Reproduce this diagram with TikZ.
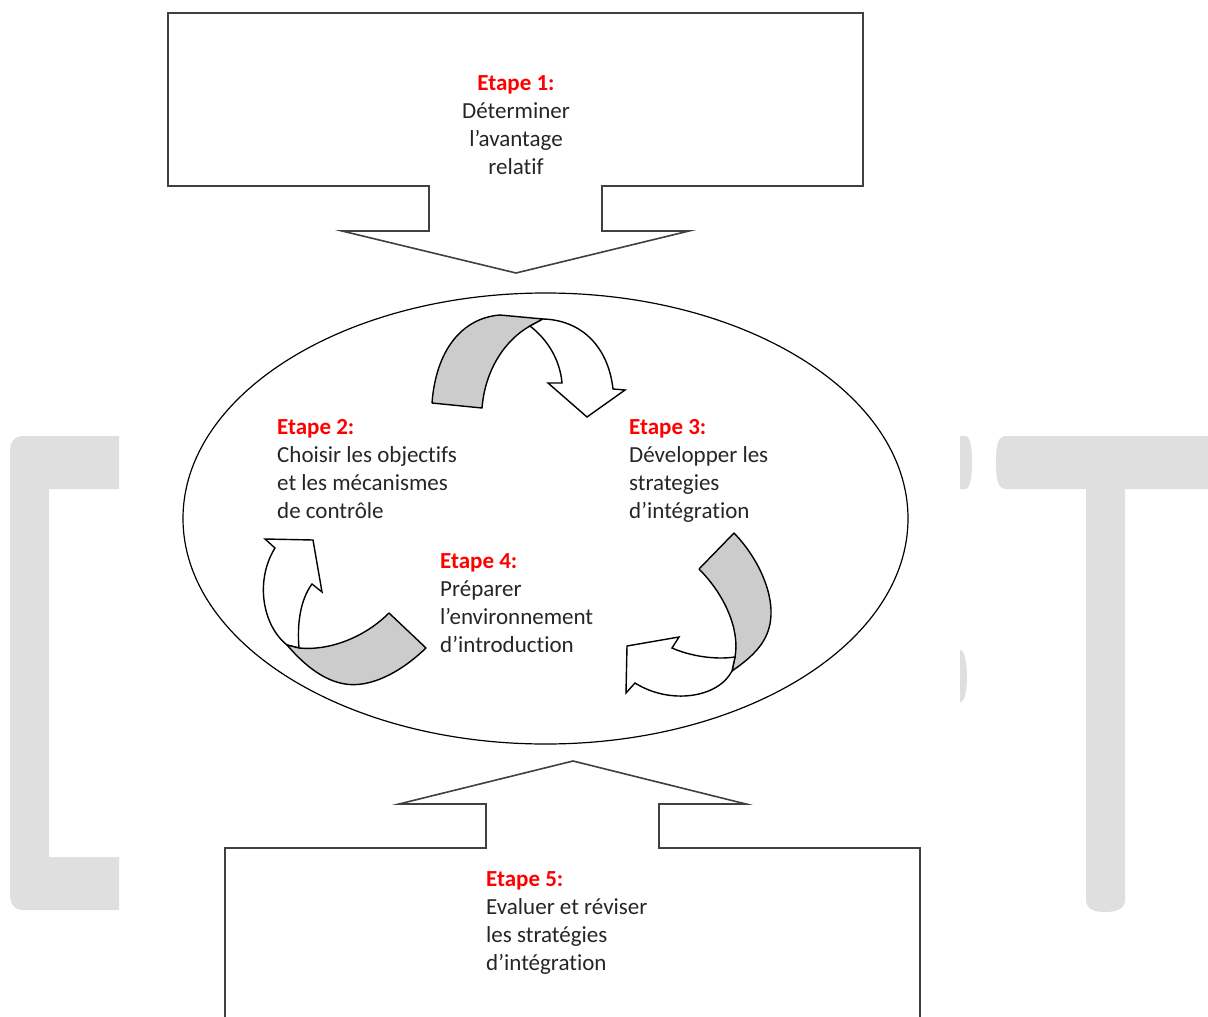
\documentclass[tikz,border=0pt]{standalone}
\usepackage{fontspec}
\setmainfont{Carlito}[Ligatures={NoCommon}]
\usetikzlibrary{shapes.geometric}
\newcommand{\hdtxt}[1]{\textcolor{red}{\textbf{#1}}}
\begin{document}
\begin{tikzpicture}[x=1pt,y=-1pt,
  boxline/.style={draw=black!75,line width=1.6pt,fill=white,line join=miter},
  ribbon/.style={draw=black,line width=1.4pt,fill=gray!40,line join=round},
  frontarrow/.style={draw=black,line width=1.4pt,fill=white,line join=miter},
  wm/.style={fill=gray!25,draw=none},
  txt/.style={font=\fontsize{23}{28}\selectfont,text=black!85,inner sep=0pt,align=left,anchor=north west}]
\useasboundingbox (0,0) rectangle (1208,1017);
\fill[white] (0,0) rectangle (1208,1017);
% watermark pieces
\fill[wm] (119,436) -- (24,436) .. controls (14,436) and (10,442) .. (10,452) -- (10,894) .. controls (10,904) and (14,910) .. (24,910) -- (119,910) -- (119,857) -- (49,857) -- (49,489) -- (119,489) -- cycle;
\fill[wm] (1208,436) -- (1006,436) .. controls (998,436) and (996,445) .. (996,462) .. controls (996,480) and (998,489) .. (1006,489) -- (1086,489) -- (1086,900) .. controls (1086,910) and (1096,912) .. (1105,912) .. controls (1114,912) and (1125,910) .. (1125,900) -- (1125,489) -- (1208,489) -- cycle;
\fill[wm] (960,436) -- (965,436) .. controls (971,436) and (972,450) .. (972,462) .. controls (972,478) and (970,489) .. (965,489) -- (960,489) -- cycle;
\fill[wm] (960,650) -- (961,650) .. controls (965,652) and (967,665) .. (967,676) .. controls (967,690) and (965,700) .. (961,702) -- (960,702) -- cycle;
% boxes
\draw[boxline] (168,13) -- (863,13) -- (863,186) -- (602,186) -- (602,231) -- (689,231) -- (516,273) -- (342,231) -- (429,231) -- (429,186) -- (168,186) -- cycle;
\draw[boxline] (225,1022) -- (225,848) -- (486,848) -- (486,804) -- (399,804) -- (573,761) -- (746,804) -- (659,804) -- (659,848) -- (920,848) -- (920,1022);
% ellipse
\node[ellipse,draw=black,line width=1.2pt,fill=white,inner sep=0pt,minimum width=725pt,minimum height=451pt] (ring) at (545.5,518.5) {};
% arrow 1 (top)
\draw[ribbon] (432,403) .. controls (436,350) and (462,318) .. (500,315) -- (543,319) -- (530,326) .. controls (505,340) and (485,370) .. (482,408) -- cycle;
\draw[frontarrow] (543,319) .. controls (580,320) and (608,345) .. (613,389) -- (625,390) -- (587,417) -- (548,383) -- (562,383) .. controls (560,360) and (548,340) .. (530,326) -- cycle;
% arrow 2 (bottom left)
\draw[frontarrow] (287,645) .. controls (262,625) and (255,580) .. (275,548) -- (265,539) -- (313,540) -- (322,592) -- (312,584) .. controls (300,600) and (297,625) .. (299,648) -- cycle;
\draw[ribbon] (299,648) .. controls (330,651) and (365,637) .. (389,613) -- (426,648) .. controls (400,673) and (370,688) .. (345,684) .. controls (320,680) and (300,660) .. (287,645) -- cycle;
% arrow 3 (bottom right)
\draw[ribbon] (699,569) -- (734,533) .. controls (758,558) and (772,590) .. (771,615) .. controls (770,640) and (755,655) .. (732,671) -- (735,657) .. controls (740,630) and (725,595) .. (699,569) -- cycle;
\draw[frontarrow] (732,671) .. controls (718,698) and (670,705) .. (635,683) -- (626,693) -- (627,646) -- (679,637) -- (672,648) .. controls (690,656) and (715,660) .. (735,657) -- cycle;
% texts
\node[txt,align=center,anchor=north] (e1) at (516,75) {\hdtxt{Etape 1:}\\Déterminer\\l’avantage\\relatif};
\node[txt] (e2) at (277,419) {\hdtxt{Etape 2:}\\Choisir les objectifs\\et les mécanismes\\de contrôle};
\node[txt] (e3) at (629,419) {\hdtxt{Etape 3:}\\Développer les\\strategies\\d’intégration};
\node[txt] (e4) at (440,553) {\hdtxt{Etape 4:}\\Préparer\\l’environnement\\d’introduction};
\node[txt] (e5) at (486,871) {\hdtxt{Etape 5:}\\Evaluer et réviser\\les stratégies\\d’intégration};
\end{tikzpicture}
\end{document}
